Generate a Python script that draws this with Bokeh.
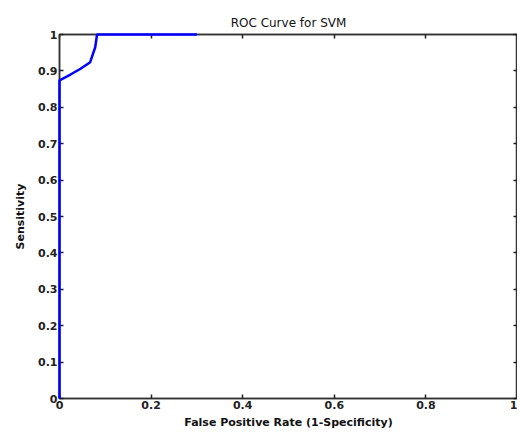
from bokeh.plotting import figure
from bokeh.models import LinearAxis, FixedTicker, Range1d
from bokeh.embed import file_html
from bokeh.resources import INLINE

# ROC curve data (false positive rate vs sensitivity)
fpr = [0.0, 0.0, 0.024, 0.046, 0.067, 0.078, 0.082, 0.30]
tpr = [0.0, 0.874, 0.89, 0.906, 0.924, 0.965, 1.0, 1.0]

x_ticks = [0, 0.2, 0.4, 0.6, 0.8, 1]
x_tick_labels = ["0", "0.2", "0.4", "0.6", "0.8", "1"]
y_ticks = [0, 0.1, 0.2, 0.3, 0.4, 0.5, 0.6, 0.7, 0.8, 0.9, 1]
y_tick_labels = ["0", "0.1", "0.2", "0.3", "0.4", "0.5", "0.6", "0.7", "0.8", "0.9", "1"]

FONT = "DejaVu Sans"

p = figure(
    frame_width=458, frame_height=364,
    min_border_left=59, min_border_right=0, min_border_top=34, min_border_bottom=38,
    x_range=Range1d(0, 1), y_range=Range1d(0, 1),
    output_backend="svg", toolbar_location=None,
    title="ROC Curve for SVM",
)
p.title.align = "center"
p.title.text_font = FONT
p.title.text_font_size = "12px"
p.title.text_font_style = "normal"
p.title.text_color = "#111111"
p.title.offset = 0

p.xgrid.visible = False
p.ygrid.visible = False
p.outline_line_color = "#333333"
p.outline_line_width = 1.5

p.line(fpr, tpr, line_color="#0000ff", line_width=2.5, level="overlay")

xlab = {v: l for v, l in zip(x_ticks, x_tick_labels)}
ylab = {v: l for v, l in zip(y_ticks, y_tick_labels)}

for ax in p.xaxis:
    ax.ticker = FixedTicker(ticks=x_ticks)
    ax.major_label_overrides = xlab
    ax.axis_label = "False Positive Rate (1-Specificity)"
    ax.axis_label_standoff = 4
for ax in p.yaxis:
    ax.ticker = FixedTicker(ticks=y_ticks)
    ax.major_label_overrides = ylab
    ax.axis_label = "Sensitivity"
    ax.axis_label_standoff = 8

for ax in p.xaxis + p.yaxis:
    ax.axis_line_color = "#333333"
    ax.axis_line_width = 1.5
    ax.major_tick_in = 4
    ax.major_tick_out = 0
    ax.major_tick_line_color = "#222222"
    ax.major_tick_line_width = 1.5
    ax.minor_tick_line_color = None
    ax.major_label_text_font = FONT
    ax.major_label_text_font_size = "11px"
    ax.major_label_text_font_style = "bold"
    ax.major_label_text_color = "#222222"
    ax.major_label_standoff = 2
    ax.axis_label_text_font = FONT
    ax.axis_label_text_font_size = "11px"
    ax.axis_label_text_font_style = "bold"
    ax.axis_label_text_color = "#111111"

top = LinearAxis(ticker=FixedTicker(ticks=x_ticks),
                 major_label_overrides={v: "" for v in x_ticks},
                 major_tick_in=4, major_tick_out=0, minor_tick_line_color=None,
                 axis_line_color="#333333", axis_line_width=1.5,
                 major_tick_line_color="#222222", major_tick_line_width=1.5,
                 major_label_standoff=0)
p.add_layout(top, "above")
right = LinearAxis(ticker=FixedTicker(ticks=y_ticks),
                   major_label_overrides={v: "" for v in y_ticks},
                   major_tick_in=4, major_tick_out=0, minor_tick_line_color=None,
                   axis_line_color="#333333", axis_line_width=1.5,
                   major_tick_line_color="#222222", major_tick_line_width=1.5,
                   major_label_standoff=0)
p.add_layout(right, "right")

open("out.html", "w").write(file_html(p, INLINE))
